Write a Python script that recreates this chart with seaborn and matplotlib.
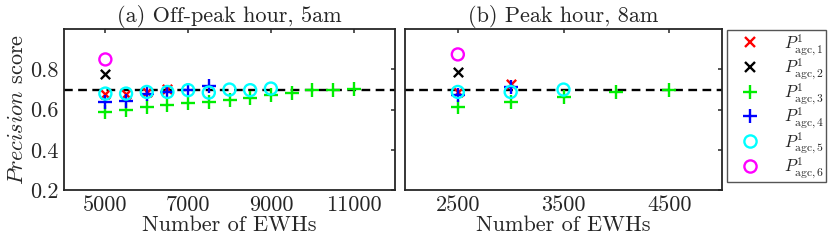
import numpy as np
import pandas as pd
import matplotlib
matplotlib.use("Agg")
import matplotlib.pyplot as plt
import seaborn as sns
from matplotlib.lines import Line2D

# ---------------- data ----------------
series_names = [r"$P^{1}_{\mathrm{agc},1}$", r"$P^{1}_{\mathrm{agc},2}$", r"$P^{1}_{\mathrm{agc},3}$",
                r"$P^{1}_{\mathrm{agc},4}$", r"$P^{1}_{\mathrm{agc},5}$", r"$P^{1}_{\mathrm{agc},6}$"]
series_colors = ["#ff0000", "#000000", "#00ee00", "#0000ff", "#00ffff", "#ff00ff"]
series_markers = ["x", "x", "+", "+", "o", "o"]

# (a) Off-peak hour, 5am
a_x1 = [5000, 5500, 6000, 6500]
a_y1 = [0.680, 0.680, 0.690, 0.705]
a_x2 = [5000]
a_y2 = [0.777]
a_x3 = [5000, 5500, 6000, 6500, 7000, 7500, 8000, 8500, 9000, 9500, 10000, 10500, 11000]
a_y3 = [0.590, 0.600, 0.613, 0.625, 0.633, 0.640, 0.650, 0.660, 0.672, 0.685, 0.697, 0.697, 0.705]
a_x4 = [5000, 5500, 6000, 6500, 7000, 7500]
a_y4 = [0.636, 0.645, 0.680, 0.690, 0.700, 0.717]
a_x5 = [5000, 5500, 6000, 6500, 7000, 7500, 8000, 8500, 9000]
a_y5 = [0.680, 0.680, 0.688, 0.688, 0.697, 0.685, 0.700, 0.697, 0.705]
a_x6 = [5000]
a_y6 = [0.850]

# (b) Peak hour, 8am
b_x1 = [2500, 3000]
b_y1 = [0.690, 0.730]
b_x2 = [2500]
b_y2 = [0.788]
b_x3 = [2500, 3000, 3500, 4000, 4500]
b_y3 = [0.613, 0.638, 0.663, 0.688, 0.700]
b_x4 = [2500, 3000]
b_y4 = [0.672, 0.713]
b_x5 = [2500, 3000, 3500]
b_y5 = [0.688, 0.688, 0.700]
b_x6 = [2500]
b_y6 = [0.875]

threshold = 0.7
titles = ["(a) Off-peak hour, 5am", "(b) Peak hour, 8am"]
a_xticks = [5000, 7000, 9000, 11000]
b_xticks = [2500, 3500, 4500]
yticks = [0.2, 0.4, 0.6, 0.8]

# ---------------- style ----------------
sns.set_theme(style="white")
plt.rcParams["font.family"] = ["cmr10", "DejaVu Serif"]
plt.rcParams["mathtext.fontset"] = "cm"
plt.rcParams["axes.formatter.use_mathtext"] = True
plt.rcParams["axes.unicode_minus"] = False

FS = 16

fig = plt.figure(figsize=(8.3, 2.44), dpi=100)
ax1 = fig.add_axes([64/830, 1-190/244, (395-64)/830, (190-29.3)/244])
ax2 = fig.add_axes([405/830, 1-190/244, (722-405)/830, (190-29.3)/244])

def build(xs, ys):
    rows = []
    for name, x, y in zip(series_names, xs, ys):
        for xi, yi in zip(x, y):
            rows.append({"series": name, "x": xi, "y": yi})
    return pd.DataFrame(rows)

df_a = build([a_x1, a_x2, a_x3, a_x4, a_x5, a_x6], [a_y1, a_y2, a_y3, a_y4, a_y5, a_y6])
df_b = build([b_x1, b_x2, b_x3, b_x4, b_x5, b_x6], [b_y1, b_y2, b_y3, b_y4, b_y5, b_y6])

sizes = {"x": 45, "+": 90, "o": 75}
draw_order = [0, 1, 3, 4, 2, 5]

def draw(ax, df, xlim, xticks, title, ylabel):
    ax.axhline(threshold, color="black", lw=1.7, ls=(0, (3.7, 2.3)), zorder=1)
    for i in draw_order:
        name = series_names[i]
        sub = df[df["series"] == name]
        m = series_markers[i]
        kw = dict(color=series_colors[i], marker=m, s=sizes[m], linewidth=1.7, zorder=3 + i)
        if m == "o":
            kw["facecolor"] = "none"
            kw["edgecolor"] = series_colors[i]
        sns.scatterplot(data=sub, x="x", y="y", ax=ax, legend=False, **kw)
    ax.set_xlim(*xlim)
    ax.set_ylim(0.2, 1.0)
    ax.set_xticks(xticks)
    ax.set_xticklabels([str(t) for t in xticks])
    ax.set_yticks(yticks)
    ax.set_title(title, fontsize=FS, pad=5)
    ax.set_xlabel("Number of EWHs", fontsize=FS, labelpad=0)
    if ylabel:
        ax.set_ylabel(r"$\mathit{Precision}$ score", fontsize=FS, labelpad=2)
        ax.set_yticklabels(["0.2", "0.4", "0.6", "0.8"])
    else:
        ax.set_ylabel("")
        ax.set_yticklabels([])
    ax.tick_params(direction="in", length=3, width=1.1, top=True, right=True,
                   labelsize=FS, pad=4, colors="#262626")
    for sp in ax.spines.values():
        sp.set_color("#262626")
        sp.set_linewidth(1.3)
        sp.set_visible(True)

draw(ax1, df_a, (4000, 12000), a_xticks, titles[0], True)
draw(ax2, df_b, (2000, 5000), b_xticks, titles[1], False)

handles = []
for i in range(6):
    m = series_markers[i]
    ms = {"x": 6.8, "+": 9.5, "o": 8.8}[m]
    if m == "o":
        h = Line2D([], [], ls="none", marker=m, ms=ms, mew=1.7, mec=series_colors[i], mfc="none")
    else:
        h = Line2D([], [], ls="none", marker=m, ms=ms, mew=1.7, color=series_colors[i])
    handles.append(h)

leg = fig.legend(handles, series_names, loc="upper left",
                 bbox_to_anchor=(726.7/830, 1-30/244), borderaxespad=0,
                 fontsize=12, frameon=True, fancybox=False, framealpha=1,
                 edgecolor="#555555", labelspacing=0.0, handletextpad=0.7,
                 handlelength=2.6, borderpad=0.12)
leg.get_frame().set_linewidth(1.0)

fig.savefig("out.png", dpi=100)
